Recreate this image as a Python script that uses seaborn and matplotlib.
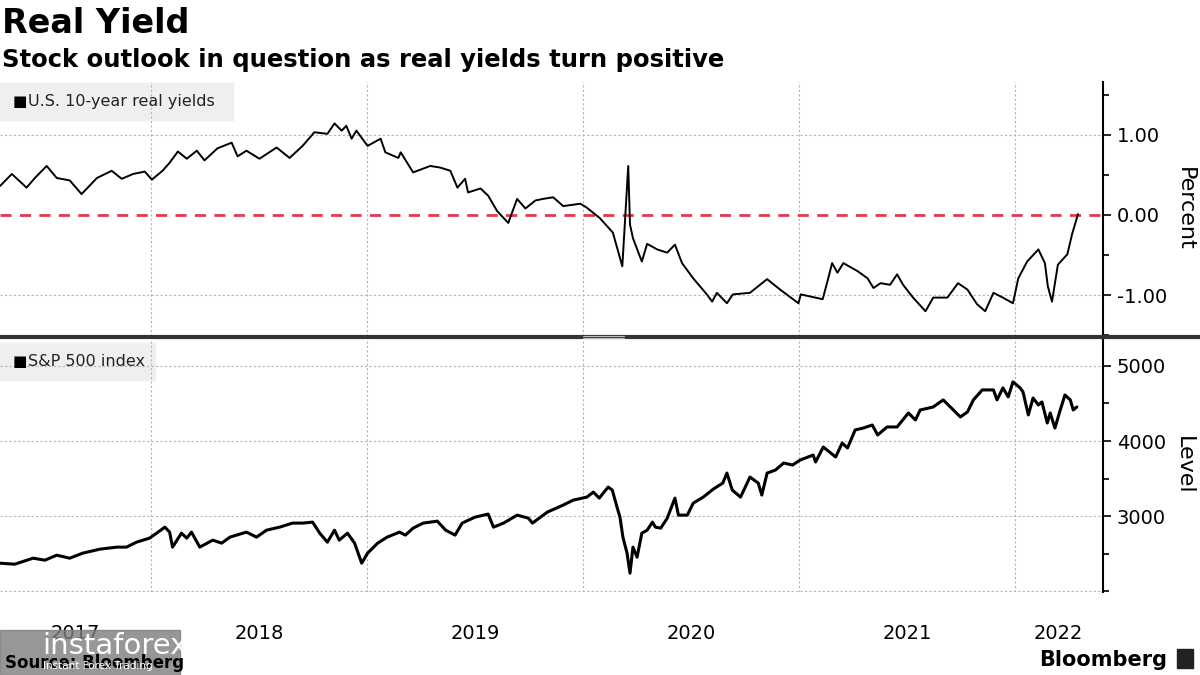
import pandas as pd
import matplotlib.pyplot as plt
from matplotlib.patches import Rectangle
from matplotlib.lines import Line2D
import seaborn as sns

# U.S. 10-year real yields (percent)
yield_dates = [
    "2017-04-20", "2017-05-10", "2017-06-04", "2017-06-18", "2017-07-08", "2017-07-25",
    "2017-08-16", "2017-09-05", "2017-10-01", "2017-10-26", "2017-11-12", "2017-12-01",
    "2017-12-21", "2018-01-02", "2018-01-20", "2018-02-01", "2018-02-15", "2018-03-02",
    "2018-03-19", "2018-04-01", "2018-04-23", "2018-05-17", "2018-05-27", "2018-06-11",
    "2018-07-03", "2018-08-01", "2018-08-23", "2018-09-14", "2018-10-04", "2018-10-26",
    "2018-11-07", "2018-11-19", "2018-11-27", "2018-12-06", "2018-12-14", "2019-01-02",
    "2019-01-24", "2019-02-01", "2019-02-23", "2019-02-27", "2019-03-20", "2019-04-18",
    "2019-05-05", "2019-05-22", "2019-06-03", "2019-06-16", "2019-06-21", "2019-07-12",
    "2019-07-25", "2019-08-09", "2019-08-28", "2019-09-12", "2019-09-26", "2019-10-13",
    "2019-10-26", "2019-11-12", "2019-11-29", "2019-12-28", "2020-01-08", "2020-01-30",
    "2020-02-21", "2020-03-08", "2020-03-18", "2020-03-21", "2020-03-26", "2020-04-10",
    "2020-04-19", "2020-05-06", "2020-05-23", "2020-06-05", "2020-06-17", "2020-07-06",
    "2020-07-29", "2020-08-07", "2020-08-15", "2020-09-01", "2020-09-11", "2020-10-10",
    "2020-11-08", "2020-11-30", "2020-12-31", "2021-01-04", "2021-02-10", "2021-02-18",
    "2021-02-26", "2021-03-07", "2021-03-17", "2021-04-10", "2021-04-27", "2021-05-07",
    "2021-05-19", "2021-06-04", "2021-06-16", "2021-06-26", "2021-07-13", "2021-08-03",
    "2021-08-16", "2021-09-09", "2021-09-27", "2021-10-13", "2021-10-29", "2021-11-12",
    "2021-11-26", "2021-12-12", "2021-12-29", "2022-01-07", "2022-01-22", "2022-02-10",
    "2022-02-21", "2022-02-26", "2022-03-05", "2022-03-15", "2022-03-31", "2022-04-08",
    "2022-04-18",
]
yield_values = [
    0.36, 0.51, 0.34, 0.46, 0.61, 0.46,
    0.43, 0.26, 0.46, 0.55, 0.45, 0.51,
    0.54, 0.44, 0.55, 0.65, 0.79, 0.70,
    0.80, 0.68, 0.83, 0.90, 0.73, 0.80,
    0.70, 0.84, 0.71, 0.86, 1.03, 1.01,
    1.14, 1.05, 1.11, 0.95, 1.05, 0.86,
    0.95, 0.78, 0.71, 0.78, 0.53, 0.61,
    0.59, 0.55, 0.34, 0.45, 0.28, 0.33,
    0.24, 0.05, -0.10, 0.20, 0.08, 0.18,
    0.20, 0.22, 0.11, 0.14, 0.09, -0.04,
    -0.22, -0.64, 0.61, -0.12, -0.29, -0.58,
    -0.36, -0.43, -0.47, -0.37, -0.60, -0.79,
    -0.99, -1.08, -0.97, -1.10, -0.99, -0.97,
    -0.80, -0.93, -1.10, -0.99, -1.05, -0.83,
    -0.60, -0.72, -0.60, -0.70, -0.79, -0.91,
    -0.85, -0.87, -0.74, -0.87, -1.03, -1.20,
    -1.03, -1.03, -0.85, -0.93, -1.11, -1.20,
    -0.97, -1.03, -1.10, -0.79, -0.58, -0.43,
    -0.60, -0.89, -1.08, -0.62, -0.49, -0.24,
    0.01,
]

# S&P 500 index level
spx_dates = [
    "2017-04-20", "2017-05-15", "2017-06-15", "2017-07-05", "2017-07-25", "2017-08-16",
    "2017-09-07", "2017-10-06", "2017-11-04", "2017-11-20", "2017-12-07", "2017-12-29",
    "2018-01-10", "2018-01-24", "2018-02-01", "2018-02-06", "2018-02-21", "2018-03-02",
    "2018-03-10", "2018-03-24", "2018-04-15", "2018-04-30", "2018-05-14", "2018-06-11",
    "2018-06-28", "2018-07-15", "2018-08-06", "2018-08-28", "2018-09-14", "2018-10-01",
    "2018-10-13", "2018-10-26", "2018-11-07", "2018-11-15", "2018-11-29", "2018-12-11",
    "2018-12-23", "2019-01-02", "2019-01-19", "2019-02-04", "2019-02-25", "2019-03-07",
    "2019-03-20", "2019-04-06", "2019-04-30", "2019-05-14", "2019-05-30", "2019-06-11",
    "2019-07-03", "2019-07-25", "2019-08-03", "2019-08-20", "2019-09-12", "2019-10-01",
    "2019-10-08", "2019-11-02", "2019-11-29", "2019-12-16", "2020-01-08", "2020-01-19",
    "2020-01-29", "2020-02-13", "2020-02-20", "2020-02-28", "2020-03-04", "2020-03-09",
    "2020-03-16", "2020-03-21", "2020-03-26", "2020-04-02", "2020-04-10", "2020-04-19",
    "2020-04-28", "2020-05-03", "2020-05-12", "2020-05-23", "2020-06-05", "2020-06-11",
    "2020-06-26", "2020-07-06", "2020-07-23", "2020-08-09", "2020-08-25", "2020-09-01",
    "2020-09-10", "2020-09-24", "2020-10-10", "2020-10-24", "2020-10-30", "2020-11-08",
    "2020-11-22", "2020-12-06", "2020-12-21", "2021-01-03", "2021-01-25", "2021-01-29",
    "2021-02-11", "2021-03-04", "2021-03-15", "2021-03-24", "2021-04-06", "2021-04-20",
    "2021-05-05", "2021-05-14", "2021-05-30", "2021-06-16", "2021-07-05", "2021-07-17",
    "2021-07-25", "2021-08-16", "2021-09-02", "2021-09-19", "2021-10-01", "2021-10-13",
    "2021-10-23", "2021-11-07", "2021-11-26", "2021-12-02", "2021-12-12", "2021-12-21",
    "2021-12-29", "2022-01-10", "2022-01-15", "2022-01-24", "2022-02-01", "2022-02-10",
    "2022-02-16", "2022-02-25", "2022-03-02", "2022-03-10", "2022-03-19", "2022-03-27",
    "2022-04-05", "2022-04-10", "2022-04-16",
]
spx_values = [
    2373, 2360, 2440, 2413, 2480, 2440,
    2507, 2560, 2587, 2587, 2653, 2707,
    2773, 2853, 2787, 2587, 2773, 2707,
    2787, 2587, 2680, 2640, 2720, 2787,
    2720, 2813, 2853, 2907, 2907, 2920,
    2773, 2653, 2813, 2680, 2773, 2640,
    2373, 2507, 2640, 2720, 2787, 2747,
    2840, 2907, 2933, 2813, 2747, 2907,
    2987, 3027, 2853, 2907, 3013, 2973,
    2907, 3053, 3147, 3213, 3253, 3320,
    3240, 3387, 3347, 3120, 2987, 2720,
    2507, 2240, 2587, 2453, 2773, 2813,
    2920, 2853, 2840, 2973, 3240, 3013,
    3013, 3173, 3253, 3360, 3440, 3573,
    3347, 3253, 3520, 3440, 3280, 3573,
    3613, 3707, 3680, 3747, 3813, 3720,
    3920, 3787, 3973, 3907, 4147, 4173,
    4213, 4080, 4187, 4187, 4373, 4280,
    4413, 4453, 4547, 4413, 4320, 4387,
    4547, 4680, 4680, 4547, 4707, 4587,
    4787, 4707, 4653, 4347, 4573, 4480,
    4520, 4240, 4373, 4173, 4413, 4613,
    4547, 4413, 4453,
]

years = [2017, 2018, 2019, 2020, 2021, 2022]
x_start = pd.Timestamp("2017-04-20")
x_end = pd.Timestamp("2022-05-30")

ry = pd.DataFrame({"date": pd.to_datetime(yield_dates), "value": yield_values})
spx = pd.DataFrame({"date": pd.to_datetime(spx_dates), "value": spx_values})

sns.set_style("white")
plt.rcParams["font.family"] = ["DejaVu Sans"]
plt.rcParams["text.color"] = "black"
plt.rcParams["xtick.color"] = "black"
plt.rcParams["ytick.color"] = "black"

fig = plt.figure(figsize=(12, 6.75), dpi=100)
ax1 = fig.add_axes([0, 0.502, 0.919, 0.377])
ax2 = fig.add_axes([0, 0.123, 0.919, 0.375], sharex=ax1)

grid_kw = dict(color="#b5b5b5", lw=0.8, ls=(0, (2, 2)), zorder=1)

# top panel: real yields
sns.lineplot(data=ry, x="date", y="value", ax=ax1, color="black", lw=1.4, zorder=3)
ax1.set_ylim(-1.51, 1.66)
for v in [-1, 1]:
    ax1.axhline(v, **grid_kw)
ax1.axhline(0, color="#e03a52", lw=2, ls=(0, (4, 3)), zorder=2)

# bottom panel: S&P 500
sns.lineplot(data=spx, x="date", y="value", ax=ax2, color="black", lw=2.2, zorder=3)
ax2.set_ylim(1990, 5360)
for v in [2000, 3000, 4000, 5000]:
    ax2.axhline(v, **grid_kw)

year_starts = [pd.Timestamp(f"{y}-01-01") for y in years[1:]]
for ax in (ax1, ax2):
    for d in year_starts:
        ax.axvline(d, **grid_kw)
    ax.set_xlim(x_start, x_end)
    ax.set_xlabel("")
    ax.set_ylabel("")
    for s in ["top", "left", "bottom"]:
        ax.spines[s].set_visible(False)
    ax.spines["right"].set_color("black")
    ax.spines["right"].set_linewidth(1.5)
    ax.yaxis.tick_right()
    ax.yaxis.set_label_position("right")
    ax.tick_params(axis="y", which="both", direction="out", color="black",
                   width=1.2, labelsize=14, pad=4, labelcolor="black")
    ax.tick_params(axis="y", which="major", length=6)
    ax.tick_params(axis="y", which="minor", length=4)

ax1.set_yticks([-1, 0, 1])
ax1.set_yticklabels([f"{v:.2f}" for v in [-1, 0, 1]])
ax1.set_yticks([-1.5, -0.5, 0.5, 1.5], minor=True)
ax1.tick_params(axis="x", which="both", bottom=False, labelbottom=False)
ax1.set_ylabel("Percent", fontsize=16, rotation=270, labelpad=20, color="black")

ax2.set_yticks([3000, 4000, 5000])
ax2.set_yticks([2000, 2500, 3500, 4500], minor=True)
ax2.set_ylabel("Level", fontsize=16, rotation=270, labelpad=20, color="black")

# year labels centred in the visible part of each year
mids = []
for y in years:
    a = max(pd.Timestamp(f"{y}-01-01"), x_start)
    b = min(pd.Timestamp(f"{y + 1}-01-01"), x_end)
    mids.append(a + (b - a) / 2)
ax2.set_xticks(year_starts)
ax2.set_xticklabels([])
ax2.set_xticks(mids, minor=True)
ax2.set_xticklabels([str(y) for y in years], minor=True)
ax2.tick_params(axis="x", which="major", length=4, color="#b5b5b5", width=0.8)
ax2.tick_params(axis="x", which="minor", length=0, labelsize=14, pad=23,
                labelcolor="black")

# legend boxes
ax1.add_patch(Rectangle((0, 0.85), 0.211, 0.146, transform=ax1.transAxes,
                        color="#efefef", zorder=0))
ax1.text(0.011, 0.923, "■", transform=ax1.transAxes, fontsize=11, va="center")
ax1.text(0.025, 0.923, "U.S. 10-year real yields", transform=ax1.transAxes,
         fontsize=11.5, va="center", color="#222222")
ax2.add_patch(Rectangle((0, 0.838), 0.1405, 0.146, transform=ax2.transAxes,
                        color="#efefef", zorder=0))
ax2.text(0.011, 0.911, "■", transform=ax2.transAxes, fontsize=11, va="center")
ax2.text(0.025, 0.911, "S&P 500 index", transform=ax2.transAxes,
         fontsize=11.5, va="center", color="#222222")

# panel separator
fig.add_artist(Line2D([0, 1], [0.5007, 0.5007], color="#333333", lw=3))
fig.add_artist(Line2D([0.486, 0.52], [0.5022, 0.5022], color="#bbbbbb", lw=0.8))
fig.add_artist(Line2D([0.486, 0.52], [0.4992, 0.4992], color="#bbbbbb", lw=0.8))

# titles
fig.text(0.002, 0.965, "Real Yield", fontsize=24, fontweight="bold", va="center")
fig.text(0.002, 0.911, "Stock outlook in question as real yields turn positive",
         fontsize=17.5, fontweight="bold", va="center")

# footer
fig.text(0.004, 0.018, "Source: Bloomberg", fontsize=12, fontweight="bold", va="center")
fig.add_artist(Rectangle((0, 0), 0.15, 0.067, transform=fig.transFigure,
                         color="#7d7d7d", alpha=0.8))
fig.text(0.035, 0.043, "instaforex", fontsize=21, color="white", va="center")
fig.text(0.036, 0.013, "Instant Forex Trading", fontsize=7.5, color="white", va="center")
fig.text(0.973, 0.022, "Bloomberg", fontsize=15, fontweight="bold", va="center", ha="right")
fig.add_artist(Rectangle((0.981, 0.01), 0.013, 0.028, transform=fig.transFigure,
                         color="#222222"))

fig.savefig("out.png", dpi=100)
